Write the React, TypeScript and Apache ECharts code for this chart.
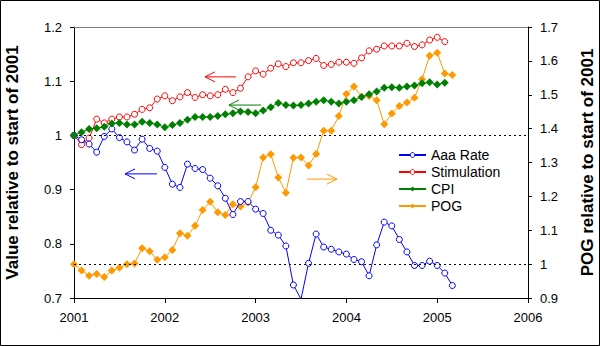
import React, { useEffect, useRef } from "react";
import * as echarts from "echarts";

const FONT = "'Liberation Sans', Arial, sans-serif";

const startYear = 2001;
const yearTicks = [2001, 2002, 2003, 2004, 2005, 2006];

const aaaRate = [
  1.0, 0.992, 0.984, 0.969, 0.998, 1.012, 0.996, 0.988, 0.973, 0.993,
  0.976, 0.971, 0.941, 0.91, 0.904, 0.947, 0.939, 0.937, 0.921, 0.907,
  0.884, 0.854, 0.878, 0.878, 0.864, 0.856, 0.825, 0.816, 0.796, 0.724,
  0.698, 0.764, 0.818, 0.794, 0.79, 0.785, 0.781, 0.771, 0.767, 0.741,
  0.798, 0.84, 0.833, 0.808, 0.785, 0.76, 0.76, 0.768, 0.76, 0.746,
  0.723,
];

const stimulation = [
  1.0, 0.983, 0.995, 1.03, 1.023, 1.03, 1.034, 1.034, 1.039, 1.048,
  1.051, 1.067, 1.073, 1.064, 1.071, 1.079, 1.07, 1.075, 1.073, 1.075,
  1.085, 1.079, 1.087, 1.108, 1.119, 1.113, 1.124, 1.132, 1.127, 1.134,
  1.134, 1.138, 1.142, 1.129, 1.131, 1.135, 1.135, 1.133, 1.143, 1.156,
  1.159, 1.165, 1.165, 1.165, 1.17, 1.164, 1.167, 1.176, 1.181, 1.173,
];

const cpi = [
  1.0, 1.006, 1.012, 1.013, 1.016, 1.022, 1.023, 1.02, 1.02, 1.025,
  1.023, 1.02, 1.015, 1.019, 1.023, 1.029, 1.034, 1.034, 1.034, 1.036,
  1.039, 1.041, 1.044, 1.043, 1.041, 1.046, 1.052, 1.06, 1.056, 1.055,
  1.056, 1.059, 1.062, 1.065, 1.062, 1.059, 1.062, 1.065, 1.071, 1.076,
  1.081, 1.088, 1.089, 1.088, 1.09, 1.092, 1.096, 1.098, 1.094, 1.097,
];

const pog = [
  1.0, 0.981, 0.966, 0.971, 0.962, 0.981, 0.989, 1.0, 1.002, 1.047,
  1.038, 1.013, 1.02, 1.042, 1.091, 1.084, 1.113, 1.16, 1.184, 1.153,
  1.145, 1.177, 1.17, 1.181, 1.227, 1.315, 1.324, 1.256, 1.211, 1.314,
  1.315, 1.291, 1.325, 1.394, 1.394, 1.437, 1.502, 1.524, 1.494, 1.496,
  1.484, 1.413, 1.445, 1.467, 1.477, 1.491, 1.546, 1.615, 1.624, 1.563,
  1.558,
];

const seriesNames = ["Aaa Rate", "Stimulation", "CPI", "POG"];

// annotation arrows in data coordinates: [xFrom, xTo, y, axisIndex, color, headAt]
const arrows: Array<[number, number, number, number, string, "left" | "right"]> = [
  [2002.443, 2002.784, 1.108, 0, "#ff0000", "left"],
  [2002.707, 2003.06, 1.056, 0, "#008000", "left"],
  [2001.562, 2001.914, 0.929, 0, "#0000ff", "left"],
  [2003.566, 2003.896, 1.251, 1, "#ff9900", "right"],
];

const toPoints = (arr: number[]) => arr.map((v, i) => [startYear + i / 12, v]);

export default function App() {
  const ref = useRef<HTMLDivElement>(null);

  useEffect(() => {
    if (!ref.current) return;
    const chart = echarts.init(ref.current, undefined, { renderer: "svg" });

    const axisLabel = { fontFamily: FONT, fontSize: 13, color: "#000" };
    const titleStyle = { fontFamily: FONT, fontSize: 17, fontWeight: "bold", color: "#000" };
    const dotted = () => ({
      silent: true,
      symbol: "none",
      label: { show: false },
      lineStyle: { color: "#000", type: [2, 3], width: 1 },
      data: [{ yAxis: 1 }],
    });

    const option: any = {
      animation: false,
      backgroundColor: "#fff",
      grid: { left: 74, right: 72, top: 27, bottom: 48, containLabel: false, outerBoundsMode: "none" },
      legend: {
        orient: "vertical",
        left: 398,
        top: 148,
        padding: 0,
        itemWidth: 27,
        itemHeight: 6,
        itemGap: 3,
        itemStyle: { borderWidth: 1 },
        textStyle: { fontFamily: FONT, fontSize: 14, color: "#000" },
        data: seriesNames,
      },
      xAxis: [
        {
          type: "value",
          min: 2001,
          max: 2006,
          interval: 1,
          axisLine: { show: true, lineStyle: { color: "#000", width: 1 } },
          axisTick: { show: true, length: 5, lineStyle: { color: "#000" } },
          axisLabel: { ...axisLabel, margin: 13, formatter: (v: number) => (yearTicks.includes(v) ? String(v) : "") },
          splitLine: { show: false },
        },
        {
          type: "value",
          position: "top",
          min: 2001,
          max: 2006,
          axisLine: { show: true, lineStyle: { color: "#808080", width: 1 } },
          axisTick: { show: false },
          axisLabel: { show: false },
          splitLine: { show: false },
        },
      ],
      yAxis: [
        {
          type: "value",
          min: 0.7,
          max: 1.2,
          interval: 0.1,
          position: "left",
          name: "Value relative to start of 2001",
          nameLocation: "middle",
          nameRotate: 90,
          nameGap: 53,
          nameTextStyle: titleStyle,
          axisLine: { show: true, lineStyle: { color: "#000", width: 1 } },
          axisTick: { show: true, length: 4, lineStyle: { color: "#000" } },
          axisLabel: { ...axisLabel, margin: 12, formatter: (v: number) => String(Math.round(v * 10) / 10) },
          splitLine: { show: false },
        },
        {
          type: "value",
          min: 0.9,
          max: 1.7,
          interval: 0.1,
          position: "right",
          name: "POG relative to start of 2001",
          nameLocation: "middle",
          nameRotate: 90,
          nameGap: 51,
          nameTextStyle: titleStyle,
          axisLine: { show: true, lineStyle: { color: "#000", width: 1 } },
          axisTick: { show: true, length: 4, lineStyle: { color: "#000" } },
          axisLabel: { ...axisLabel, margin: 12, formatter: (v: number) => String(Math.round(v * 10) / 10) },
          splitLine: { show: false },
        },
      ],
      series: [
        {
          name: seriesNames[0],
          type: "line",
          yAxisIndex: 0,
          data: toPoints(aaaRate),
          symbol: "circle",
          symbolSize: 6,
          lineStyle: { color: "#0000ff", width: 1 },
          itemStyle: { color: "#ffffff", borderColor: "#0000ff", borderWidth: 1 },
          markLine: dotted(),
          z: 4,
        },
        {
          name: seriesNames[1],
          type: "line",
          yAxisIndex: 0,
          data: toPoints(stimulation),
          symbol: "circle",
          symbolSize: 6,
          lineStyle: { color: "#ff0000", width: 1 },
          itemStyle: { color: "#ffffff", borderColor: "#ff0000", borderWidth: 1 },
          z: 3,
        },
        {
          name: seriesNames[2],
          type: "line",
          yAxisIndex: 0,
          data: toPoints(cpi),
          symbol: "diamond",
          symbolSize: 8,
          lineStyle: { color: "#008000", width: 1 },
          itemStyle: { color: "#008000" },
          z: 10,
        },
        {
          name: seriesNames[3],
          type: "line",
          yAxisIndex: 1,
          data: toPoints(pog),
          symbol: "diamond",
          symbolSize: 8,
          lineStyle: { color: "#ff9900", width: 1 },
          itemStyle: { color: "#ff9900" },
          markLine: dotted(),
          z: 2,
        },
      ],
    };

    chart.setOption(option);

    const graphics: any[] = [
      {
        type: "rect",
        shape: { x: 0.5, y: 0.5, width: 599, height: 345 },
        style: { fill: "none", stroke: "#000", lineWidth: 1 },
        silent: true,
        z: 100,
      },
    ];
    arrows.forEach(([x1, x2, y, ax, color, head]) => {
      const p1 = chart.convertToPixel({ xAxisIndex: 0, yAxisIndex: ax }, [x1, y]) as number[];
      const p2 = chart.convertToPixel({ xAxisIndex: 0, yAxisIndex: ax }, [x2, y]) as number[];
      graphics.push({
        type: "line",
        shape: { x1: p1[0], y1: p1[1], x2: p2[0], y2: p2[1] },
        style: { stroke: color, lineWidth: 1 },
        silent: true,
      });
      const tip = head === "left" ? p1 : p2;
      const dir = head === "left" ? 1 : -1;
      graphics.push({
        type: "polyline",
        shape: {
          points: [
            [tip[0] + dir * 10, tip[1] - 5],
            [tip[0], tip[1]],
            [tip[0] + dir * 10, tip[1] + 5],
          ],
        },
        style: { stroke: color, lineWidth: 1, fill: "none" },
        silent: true,
      });
    });
    chart.setOption({ graphic: graphics });

    return () => chart.dispose();
  }, []);

  return (
    <div
      ref={ref}
      style={{ position: "fixed", left: 0, top: 0, width: 600, height: 346, background: "#fff" }}
    />
  );
}
